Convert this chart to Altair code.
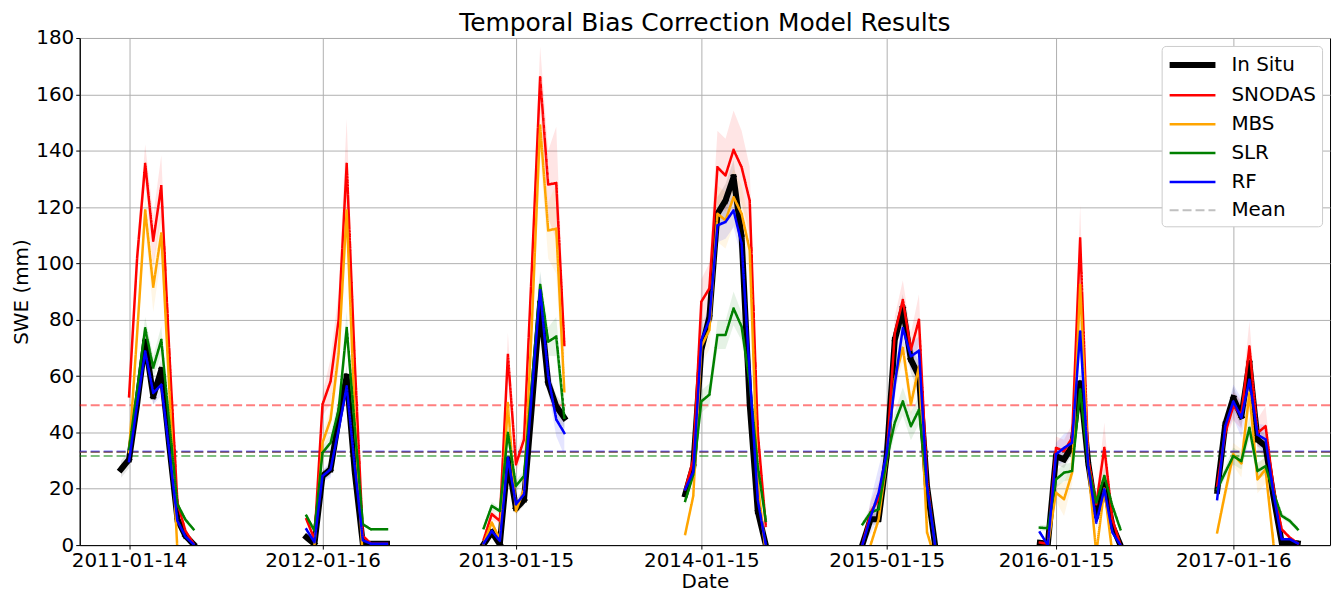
import altair as alt
import pandas as pd

SERIES = ["In Situ", "SNODAS", "MBS", "SLR", "RF"]
COLORS = ["black", "red", "orange", "green", "blue"]
LEGEND_NAMES = SERIES + ["Mean"]
LEGEND_COLORS = COLORS + ["#c0c0c0"]

# measurement index (semi-monthly step) where each season's record starts
SEASON_START = [-1, 22, 44, 69, 91, 113, 135]

TICK_IDX = [0, 24, 48, 71, 94, 115, 137]
TICK_LABELS = ["2011-01-14", "2012-01-16", "2013-01-15", "2014-01-15",
               "2015-01-15", "2016-01-15", "2017-01-16"]

# SWE values (mm) per season
in_situ = [
    [26.9, 30.4, 50, 72.2, 52.8, 62.2, 35, 9.2, 3.3, 0.3],
    [2.8, 0.4, 24.5, 26.9, 44.6, 59.9, 26, 0.5, 0.5, 0.5, 0.5],
    [0.3, 4.6, 0.3, 30.4, 13, 16, 50, 85.8, 57.5, 49.3, 45.2],
    [18, 28, 69.3, 81, 117.6, 122.3, 130.6, 109.4, 50, 12, 0],
    [0.3, 9.2, 9.2, 31.6, 72.8, 84, 65.8, 60, 21, 0],
    [0.8, 0.5, 31.6, 30.4, 35.1, 57.5, 29.2, 10.4, 21.6, 6.8, 0],
    [19.2, 42.8, 52.2, 45.7, 64.6, 37.5, 35.1, 17, 1, 1, 0.6],
]
snodas = [
    [None, 52.8, 102, 135.3, 108, 127.4, 68, 15, 5, 0.5],
    [9.2, 2, 49.9, 58.1, 79.9, 135.3, 65, 3.3, 0.5, 0.5, 0.5],
    [2, 11, 8.6, 67.5, 28.6, 37.5, 100, 166, 128, 128.5, 71],
    [19.8, 30.4, 86.4, 91.1, 134.1, 131.2, 140.3, 134.1, 122.3, 40, 6.8],
    [0.3, 11.6, 16.3, 31.6, 75.2, 87, 69.3, 80, 23, 0],
    [0.9, 0.5, 34.5, 33.4, 38, 108.8, 30.4, 14.5, 34.5, 9.2, 0],
    [21, 39.8, 49.3, 46.3, 70.5, 39.8, 42.2, 20, 5.6, 2.7, 0.6],
]
mbs = [
    [None, 33, 75, 118.8, 91.7, 110.6, 55, -2, None, None],
    [None, 0, 36.3, 44.6, 68, 118.8, 45, -5, None, None, None],
    [0.5, 8, 2, 50.4, 12, 19.8, 80, 148.9, 111.7, 112.3, 54.6],
    [3.9, 17.4, 70.5, 76.4, 117.6, 115.3, 123.5, 117.6, 104.7, 22, -3],
    [None, 0, 9.2, 30, 58.7, 70, 49.9, 63.4, 4.6, -5],
    [None, 0, 18.6, 16.3, 25.7, 92.3, 28, -3, 20, -3, None],
    [4.5, 18.7, 32.2, 29, 54, 23.3, 26.9, 0, -3, None, None],
]
slr = [
    [None, 34, 55, 77, 63, 72.8, 43, 14.5, 9, 5.6],
    [10.4, 5.1, 32.8, 36.3, 48, 77, 42, 7.4, 5.6, 5.6, 5.6],
    [6, 13.9, 12.1, 39.8, 21, 24.5, 58, 92.3, 72.2, 74, 45.2],
    [15.7, 25, 51, 53.4, 74.6, 74.6, 84, 77.5, 57.6, 28, 8.6],
    [7.4, 11.6, 12.7, 30.4, 43.4, 51, 42.2, 48, 21, 0.6],
    [6.2, 6, 23.3, 25.7, 26.3, 55.2, 28, 15.1, 24.5, 13.9, 5.6],
    [19.8, 25.8, 31.6, 29.8, 41.6, 26.3, 28, 18.6, 10.4, 8.6, 5.6],
]
rf = [
    [None, 29.8, 50, 68.7, 54, 56.9, 33, 8.6, 3, 0.3],
    [5.6, 1, 24.5, 26.9, 41, 56.3, 28, 1.7, 0.5, 0.5, 0.5],
    [0.6, 5, 1.5, 31, 14.5, 18, 55, 90.5, 60, 44.6, 39.8],
    [19.8, 26, 72.8, 80, 113.5, 114.7, 118.8, 107, 61, 16, 0],
    [0.3, 10, 18.6, 32.8, 57, 77, 67, 69, 21, 0],
    [4.5, 0, 32.2, 34.5, 36.3, 75.8, 28, 8, 19.8, 4.5, 0],
    [16.3, 42.2, 51, 45.2, 58.7, 39.2, 37.5, 18, 2.1, 2.1, 0.6],
]

# half-width of the shaded uncertainty band (mm)
in_situ_err = [
    [3, 3, 3, 4, 3, 4, 2, 1, 0.5, 0.2],
    [1, 0.3, 2, 2, 3, 4, 2, 0.2, 0.2, 0.2, 0.2],
    [0.2, 1, 0.2, 2, 2, 2, 3, 5, 4, 4, 4],
    [2, 2, 4, 5, 6, 6, 6, 6, 4, 2, 0],
    [0.2, 2, 2, 3, 5, 5, 5, 5, 2, 0],
    [0.2, 0.2, 3, 3, 3, 5, 3, 1.5, 2, 1, 0],
    [2, 3, 4, 4, 5, 4, 4, 2, 0.3, 0.3, 0.2],
]
snodas_err = [
    [0, 4, 6, 7, 9, 11, 5, 2, 1, 0.2],
    [1, 0.5, 4, 8, 10, 16, 6, 0.5, 0.2, 0.2, 0.2],
    [0.5, 2, 1, 8, 3, 4, 8, 11, 12, 20, 6],
    [2, 3, 8, 9, 13, 13, 14, 13, 12, 4, 1],
    [0.2, 4, 6, 6, 6, 7, 6, 9, 3, 0],
    [0.2, 0.2, 4, 4, 5, 12, 4, 3, 9, 2, 0],
    [2, 3, 5, 5, 9, 5, 7, 3, 1, 0.5, 0.2],
]
mbs_err = [
    [0, 3, 5, 6, 9, 8, 4, 1, 0, 0],
    [0, 0, 3, 4, 6, 10, 4, 0, 0, 0, 0],
    [0.2, 1.5, 0.5, 5, 2, 3, 7, 10, 10, 16, 6],
    [1, 2, 6, 7, 10, 10, 10, 10, 9, 3, 0],
    [0, 0, 2, 3, 4, 5, 4, 5, 1, 0],
    [0, 0, 3, 6, 4, 9, 4, 0, 3, 0, 0],
    [1, 3, 4, 5, 6, 5, 5, 0, 0, 0, 0],
]
slr_err = [
    [0, 2, 3, 4, 4, 5, 3, 1, 1, 0.5],
    [1, 0.5, 2, 3, 4, 6, 3, 0.5, 0.5, 0.5, 0.5],
    [0.5, 1.5, 1, 3, 2, 2, 4, 5, 5, 7, 4],
    [1.5, 2, 4, 4, 5, 5, 6, 5, 4, 2, 1],
    [1, 2, 2, 3, 4, 5, 5, 5, 2, 0.3],
    [1, 1, 3, 3, 3, 5, 3, 2, 3, 2, 1],
    [2, 2, 3, 3, 4, 3, 3, 2, 1, 1, 1],
]
rf_err = [
    [0, 2, 3, 4, 4, 4, 2, 1, 0.5, 0.2],
    [1, 0.3, 2, 3, 3, 4, 2, 0.2, 0.2, 0.2, 0.2],
    [0.2, 1, 0.3, 3, 2, 2, 4, 6, 5, 6, 8],
    [2, 2, 5, 5, 6, 6, 6, 6, 5, 2, 0],
    [0.2, 6, 9, 6, 5, 6, 5, 5, 2, 0],
    [0.5, 0, 4, 5, 4, 6, 3, 2, 3, 1, 0],
    [2, 3, 6, 7, 6, 4, 5, 2, 0.5, 0.5, 0.2],
]

# overall means (dashed horizontal lines)
MEANS = [33.0, 49.6, 33.0, 31.6, 33.2]

LINE_WIDTHS = [6, 2.5, 2.5, 2.5, 2.5, 2]

values = [in_situ, snodas, mbs, slr, rf]
errors = [in_situ_err, snodas_err, mbs_err, slr_err, rf_err]

rows = []
for s, start in enumerate(SEASON_START):
    for name, vals, errs in zip(SERIES, values, errors):
        for k, v in enumerate(vals[s]):
            if v is None:
                continue
            e = errs[s][k]
            rows.append({"idx": start + k, "swe": v, "lo": v - e, "hi": v + e,
                         "series": name, "season": s})
df = pd.DataFrame(rows)
means_df = pd.DataFrame({"series": SERIES, "mean": MEANS})

label_expr = "''"
for i, lab in reversed(list(zip(TICK_IDX, TICK_LABELS))):
    label_expr = f"datum.value == {i} ? '{lab}' : " + label_expr

x_enc = alt.X("idx:Q",
              scale=alt.Scale(domain=[-6.12, 149.0], nice=False, zero=False),
              axis=alt.Axis(values=TICK_IDX, labelExpr=label_expr, title="Date",
                            titlePadding=1))
y_scale = alt.Scale(domain=[0, 180], nice=False, zero=False)
y_axis = alt.Axis(values=list(range(0, 181, 20)), title="SWE (mm)")

bands = alt.Chart(df).mark_area(opacity=0.1, clip=True).encode(
    x=x_enc,
    y=alt.Y("lo:Q", scale=y_scale, axis=y_axis),
    y2="hi:Q",
    fill=alt.Fill("series:N", scale=alt.Scale(domain=SERIES, range=COLORS), legend=None),
    detail="season:N",
)

mean_rules = alt.Chart(means_df).mark_rule(strokeDash=[9, 4], strokeWidth=2, opacity=0.5).encode(
    y=alt.Y("mean:Q", scale=y_scale, axis=y_axis),
    stroke=alt.Stroke("series:N", scale=alt.Scale(domain=SERIES, range=COLORS), legend=None),
)

line_layers = []
for name in SERIES:
    line_layers.append(
        alt.Chart(df).transform_filter(alt.datum.series == name)
        .mark_line(clip=True, strokeCap="square", strokeJoin="round")
        .encode(
            x=x_enc,
            y=alt.Y("swe:Q", scale=y_scale, axis=y_axis),
            color=alt.Color("series:N",
                            scale=alt.Scale(domain=LEGEND_NAMES, range=LEGEND_COLORS),
                            legend=alt.Legend(title=None)),
            strokeWidth=alt.StrokeWidth("series:N",
                                        scale=alt.Scale(type="ordinal", domain=LEGEND_NAMES,
                                                        range=LINE_WIDTHS),
                                        legend=alt.Legend(title=None)),
            strokeDash=alt.StrokeDash("series:N",
                                      scale=alt.Scale(domain=LEGEND_NAMES,
                                                      range=[[1, 0]] * 5 + [[9, 4]]),
                                      legend=alt.Legend(title=None)),
            detail="season:N",
        )
    )

chart = alt.layer(bands, mean_rules, *line_layers).properties(
    width=1255,
    height=509,
    title=alt.TitleParams("Temporal Bias Correction Model Results", frame="group", dy=14),
    autosize=alt.AutoSizeParams(type="none"),
    padding={"left": 72, "top": 29, "right": 5, "bottom": 50},
).configure(
    font="DejaVu Sans",
    background="white",
).configure_view(
    stroke="black", strokeWidth=1,
).configure_title(
    fontSize=25, fontWeight="normal", color="black", anchor="middle", offset=6,
    font="DejaVu Sans",
).configure_axis(
    labelFont="DejaVu Sans", labelFontSize=20, labelColor="black",
    titleFont="DejaVu Sans", titleFontSize=20, titleFontWeight="normal", titleColor="black",
    tickColor="black", tickSize=4, labelPadding=2, domainColor="black",
    gridColor="#b0b0b0", gridWidth=1, titlePadding=4,
).configure_axisX(
    labelFlush=False,
).configure_legend(
    orient="top-right", offset=8, labelFontSize=20, labelFont="DejaVu Sans",
    labelColor="black", fillColor="white", strokeColor="#cccccc", cornerRadius=4,
    padding=6, rowPadding=7, symbolType="M-2.3,0L2.3,0", symbolSize=400,
    symbolOffset=12, labelOffset=26, labelLimit=0,
)

chart.save("out.html", embed_options={"renderer": "svg", "actions": False})
